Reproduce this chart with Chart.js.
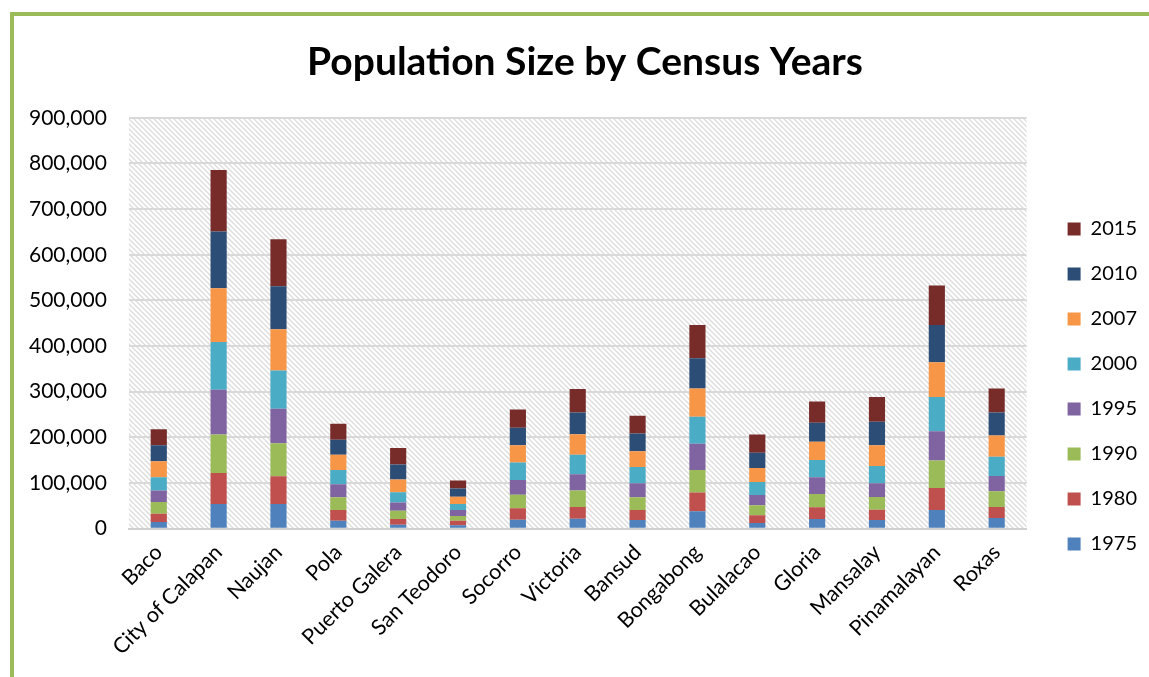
<!DOCTYPE html>
<html>
<head>
<meta charset="utf-8">
<script src="https://cdn.jsdelivr.net/npm/chart.js@4/dist/chart.umd.min.js"></script>
<style>
  html, body { margin: 0; padding: 0; background: #fff; }
  #wrap { width: 1149px; height: 677px; position: relative; }
</style>
</head>
<body>
<div id="wrap"><canvas id="myChart" width="1149" height="677"></canvas></div>
<script>
let towns = ["Baco","City of Calapan","Naujan","Pola","Puerto Galera","San Teodoro","Socorro","Victoria","Bansud","Bongabong","Bulalacao","Gloria","Mansalay","Pinamalayan","Roxas"];
let years = ["1975","1980","1990","1995","2000","2007","2010","2015"];
let yearColors = ["#4F81BD","#C0504D","#9BBB59","#8064A2","#4BACC6","#F79646","#2C4D75","#772C2A"];
let yTicks = [0,100000,200000,300000,400000,500000,600000,700000,800000,900000];

// population per census year, one value per town (same order as towns)
let pop1975 = [14600,54100,54100,17600,8800,7300,19800,21900,19000,38000,12400,21200,19000,41000,23400];
let pop1980 = [18300,68100,60800,23400,12400,10300,24800,25700,22000,41000,16900,25600,22700,48200,24200];
let pop1990 = [25600,84100,72400,27800,18300,10200,30000,35800,27800,49700,21900,29300,27800,60000,34300];
let pop1995 = [24900,98000,75300,28500,17600,13200,32200,35800,30700,57100,22700,36600,30000,64400,33700];
let pop2000 = [29300,104600,84100,31400,22600,13100,38000,42500,35800,59300,28500,38000,38000,74600,41700];
let pop2007 = [35100,117800,90000,33000,27800,16100,38100,45300,34400,62100,30700,39500,45400,76100,46800];
let pop2010 = [35100,124300,94400,32900,33000,17600,38000,47600,38800,65900,33000,41700,51200,81900,50500];
let pop2015 = [35100,134700,103100,35100,36500,17500,40300,51200,38800,73100,40200,46800,54100,86400,52600];
let series = [pop1975,pop1980,pop1990,pop1995,pop2000,pop2007,pop2010,pop2015];

// hatched plot background + green frame
let hatch = (function(){
    let c = document.createElement("canvas");
    c.width = 5; c.height = 5;
    let g = c.getContext("2d");
    g.strokeStyle = "#dcdcdc";
    g.lineWidth = 1.3;
    g.beginPath();
    g.moveTo(-1,-1); g.lineTo(6,6);
    g.moveTo(-1,4); g.lineTo(1,6);
    g.moveTo(4,-1); g.lineTo(6,1);
    g.stroke();
    return c;
})();

let backdrop = {
    id:"backdrop",
    afterLayout(chart){
        // nudge legend and title to where the original has them
        let lg = chart.legend;
        lg.left += 16; lg.right += 16;
        lg.top += 55; lg.bottom += 55;
        let tb = chart.titleBlock;
        tb.left += 16; tb.right += 16;
    },
    beforeDraw(chart){
        let ctx = chart.ctx, a = chart.chartArea;
        ctx.save();
        ctx.strokeStyle = "#9BBB59";
        ctx.lineWidth = 4;
        ctx.beginPath();
        ctx.moveTo(12, 677);
        ctx.lineTo(12, 14);
        ctx.lineTo(1149, 14);
        ctx.stroke();
        ctx.fillStyle = ctx.createPattern(hatch, "repeat");
        ctx.fillRect(a.left, a.top, a.right - a.left, a.bottom - a.top);
        ctx.restore();
    }
};

let ctx = document.getElementById("myChart").getContext("2d");
let popChart = new Chart(ctx,{
    type:"bar",
    data:{
        labels:towns,
        datasets:years.map((y,i) => ({
            label:y,
            data:series[i],
            backgroundColor:yearColors[i],
            borderWidth:0,
            barPercentage:0.27,
            categoryPercentage:1
        }))
    },
    options:{
        responsive:false,
        animation:false,
        layout:{padding:{left:7,right:18,bottom:14}},
        plugins:{
            title:{
                display:true,
                text:"Population Size by Census Years",
                color:"#000",
                font:{family:"Lato",size:39,weight:"bold"},
                padding:{top:39,bottom:32}
            },
            legend:{
                position:"right",
                reverse:true,
                labels:{
                    color:"#000",
                    boxWidth:13,
                    boxHeight:13,
                    padding:25,
                    font:{family:"Lato",size:20}
                }
            },
            tooltip:{enabled:false}
        },
        scales:{
            x:{
                stacked:true,
                grid:{display:false},
                border:{color:"#d0d0d0",width:2},
                ticks:{
                    color:"#000",
                    maxRotation:45,
                    minRotation:45,
                    font:{family:"Lato",size:21.5}
                }
            },
            y:{
                stacked:true,
                min:0,
                max:900000,
                afterBuildTicks(axis){ axis.ticks = yTicks.map(v => ({value:v})); },
                grid:{color:"#d9d9d9",lineWidth:2,drawTicks:false},
                border:{display:false},
                ticks:{
                    color:"#000",
                    padding:22,
                    font:{family:"Lato",size:21},
                    callback:v => v.toLocaleString("en-US")
                }
            }
        }
    },
    plugins:[backdrop]
});
</script>
</body>
</html>
